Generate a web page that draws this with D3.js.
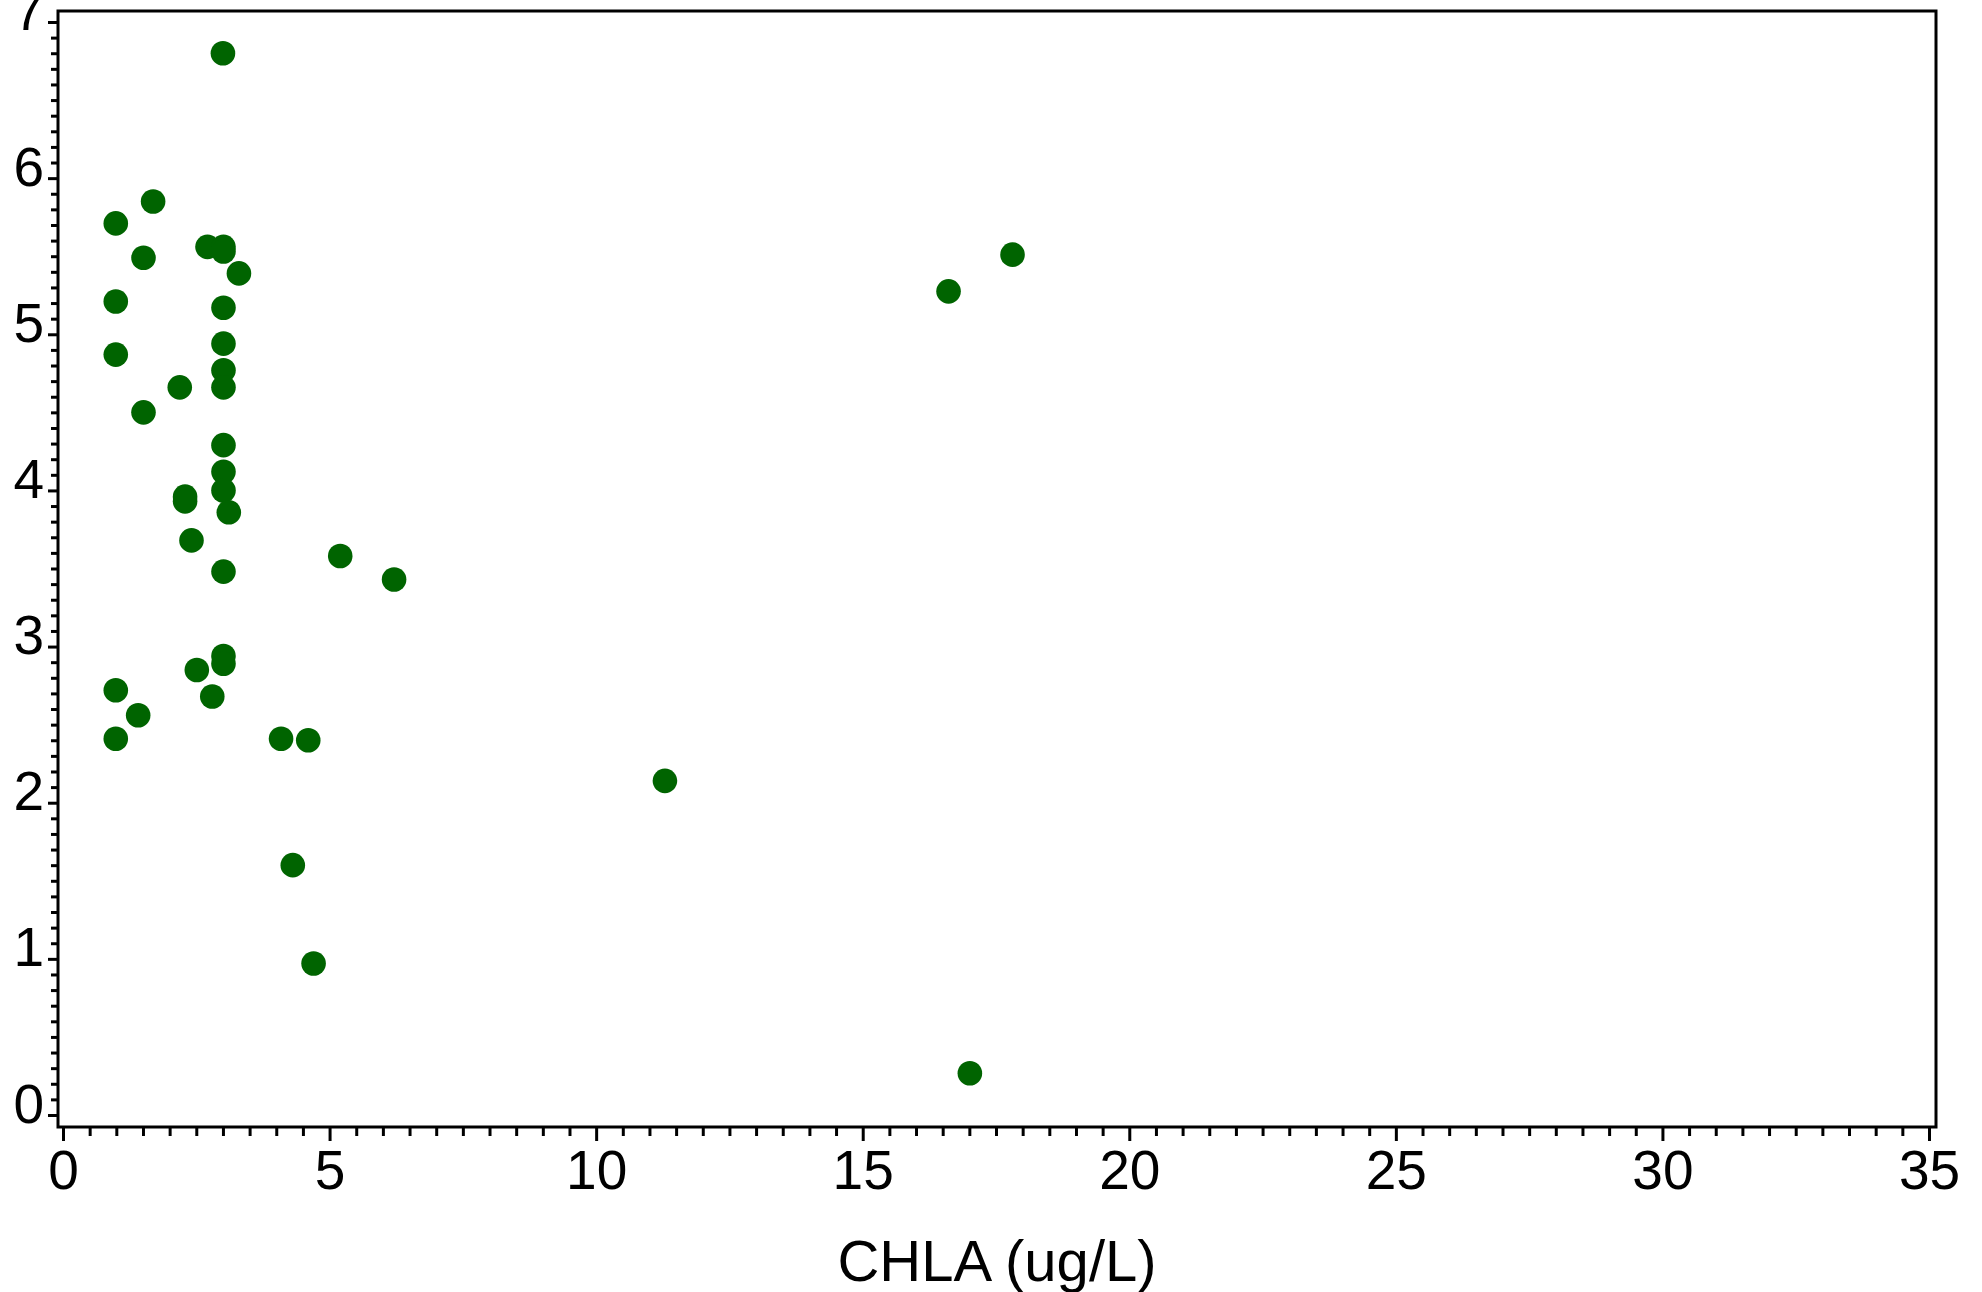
<!DOCTYPE html>
<html>
<head>
<meta charset="utf-8">
<script src="https://cdn.jsdelivr.net/npm/d3@7"></script>
<style>
  html, body { margin: 0; padding: 0; background: #fff; }
  svg { display: block; }
  text { font-family: "Liberation Sans", Arial, sans-serif; fill: #000; }
</style>
</head>
<body>
<svg id="chart" width="1982" height="1292"></svg>
<script>
// CHLA (ug/L) values
const chla = [3.00, 1.69, 0.99, 1.51, 2.71, 3.01, 3.01, 3.30, 0.99, 3.01,
              3.01, 0.99, 3.01, 3.01, 2.19, 1.51, 3.01, 3.01, 3.01, 2.29,
              2.29, 3.11, 2.41, 3.01, 5.20, 6.21, 3.01, 3.01, 2.51, 0.99,
              2.80, 1.41, 0.99, 4.09, 4.60, 4.31, 4.70, 11.29, 16.61, 17.81, 17.01];
// Y values
const yvals = [6.80, 5.85, 5.71, 5.49, 5.56, 5.56, 5.53, 5.39, 5.21, 5.17,
               4.94, 4.87, 4.77, 4.66, 4.66, 4.50, 4.29, 4.12, 4.00, 3.96,
               3.93, 3.86, 3.68, 3.48, 3.58, 3.43, 2.94, 2.89, 2.85, 2.72,
               2.68, 2.56, 2.41, 2.41, 2.40, 1.60, 0.97, 2.14, 5.275, 5.51, 0.267];

const xMajorTicks = [0, 5, 10, 15, 20, 25, 30, 35];
const yMajorTicks = [0, 1, 2, 3, 4, 5, 6, 7];
const xTitle = "CHLA (ug/L)";

const points = chla.map((c, i) => ({ x: c, y: yvals[i] }));

const svg = d3.select("#chart");
const frame = { left: 58, right: 1936, top: 11, bottom: 1127 };

const x = d3.scaleLinear().domain([0, 35]).range([63, 1929]);
const y = d3.scaleLinear().domain([0, 7]).range([1115, 22]);

const xMinor = d3.range(0, 35.001, 0.5).filter(v => Math.abs(v % 5) > 1e-6);
const yMinor = d3.range(0, 7.0001, 0.1).map(v => Math.round(v * 10) / 10).filter(v => Math.abs(v - Math.round(v)) > 1e-6);

// points
svg.append("g").selectAll("circle").data(points).join("circle")
  .attr("cx", d => x(d.x)).attr("cy", d => y(d.y))
  .attr("r", 12.3).attr("fill", "#006400");

// frame
svg.append("rect")
  .attr("x", frame.left).attr("y", frame.top)
  .attr("width", frame.right - frame.left).attr("height", frame.bottom - frame.top)
  .attr("fill", "none").attr("stroke", "#000").attr("stroke-width", 3);

// x axis minor
const gxMinor = svg.append("g").attr("transform", `translate(0,${frame.bottom})`)
  .call(d3.axisBottom(x).tickValues(xMinor).tickSize(9).tickFormat(""));
gxMinor.select(".domain").remove();
gxMinor.selectAll("line").attr("stroke", "#000").attr("stroke-width", 3);

// x axis major
const gx = svg.append("g").attr("transform", `translate(0,${frame.bottom})`)
  .call(d3.axisBottom(x).tickValues(xMajorTicks).tickSize(14).tickFormat(d3.format("d")));
gx.select(".domain").remove();
gx.selectAll("line").attr("stroke", "#000").attr("stroke-width", 3);
gx.selectAll("text").attr("y", 62).attr("dy", null)
  .attr("font-size", 55).attr("font-family", "Liberation Sans, Arial, sans-serif").attr("fill", "#000");

// y axis minor
const gyMinor = svg.append("g").attr("transform", `translate(${frame.left},0)`)
  .call(d3.axisLeft(y).tickValues(yMinor).tickSize(7).tickFormat(""));
gyMinor.select(".domain").remove();
gyMinor.selectAll("line").attr("stroke", "#000").attr("stroke-width", 3);

// y axis major
const gy = svg.append("g").attr("transform", `translate(${frame.left},0)`)
  .call(d3.axisLeft(y).tickValues(yMajorTicks).tickSize(10).tickFormat(d3.format("d")));
gy.select(".domain").remove();
gy.selectAll("line").attr("stroke", "#000").attr("stroke-width", 3);
gy.selectAll("text").attr("x", -14).attr("dy", null).attr("y", 7)
  .attr("font-size", 55).attr("font-family", "Liberation Sans, Arial, sans-serif").attr("fill", "#000");

// x title
svg.append("text")
  .attr("x", (frame.left + frame.right) / 2).attr("y", 1281)
  .attr("text-anchor", "middle").attr("font-size", 58)
  .text(xTitle);
</script>
</body>
</html>
